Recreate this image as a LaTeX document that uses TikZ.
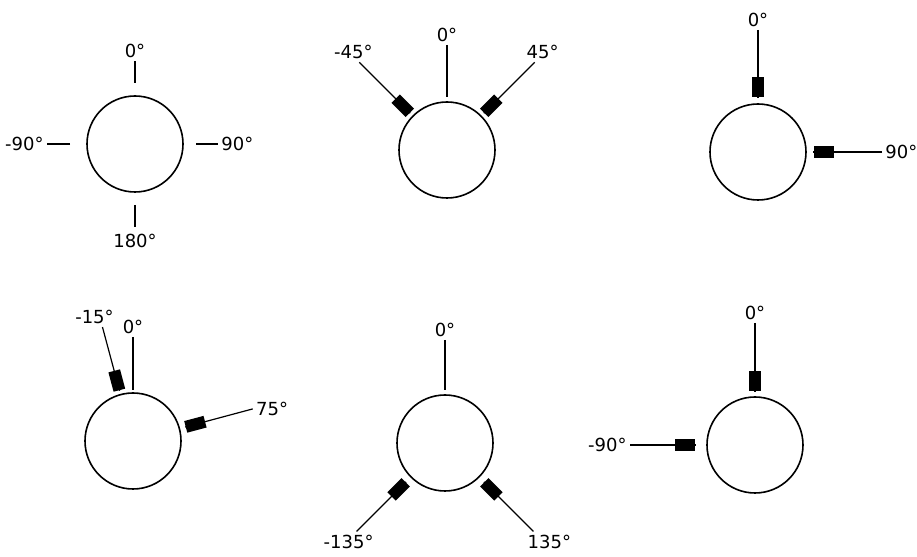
\documentclass[tikz,border=0pt]{standalone}
\usepackage{fontspec}
\setmainfont{DejaVu Sans}
\usetikzlibrary{positioning}

\tikzset{
  ring/.style={draw, circle, line width=0.8pt, minimum size=48pt, inner sep=0pt},
  spoke/.style={line width=0.6pt},
  plug/.style={fill=black, minimum width=10pt, minimum height=6pt, inner sep=0pt,
               sloped, allow upside down, anchor=east},
  deg/.style={font=\fontsize{9}{10}\selectfont, inner sep=1.5pt}
}

\begin{document}
\begin{tikzpicture}[x=0.5pt, y=0.5pt]

\useasboundingbox (0,0) rectangle (917,557);

% the six rings
\node[ring] (c1) at (135, 413) {};
\node[ring] (c2) at (447, 407) {};
\node[ring] (c3) at (758, 405) {};
\node[ring] (c4) at (133, 116) {};
\node[ring] (c5) at (445, 114) {};
\node[ring] (c6) at (755, 112) {};

% ring 1: four short spokes
\path (c1.center) ++(90:61) coordinate (c1ua) ++(90:22) coordinate (c1ub);
\path (c1.center) ++(0:61) coordinate (c1ra) ++(0:22) coordinate (c1rb);
\path (c1.center) ++(270:61) coordinate (c1da) ++(270:22) coordinate (c1db);
\path (c1.center) ++(180:65) coordinate (c1la) ++(180:23) coordinate (c1lb);
\draw[spoke] (c1ua) -- (c1ub);
\draw[spoke] (c1ra) -- (c1rb);
\draw[spoke] (c1da) -- (c1db);
\draw[spoke] (c1la) -- (c1lb);
\node[deg, above] (t1u) at (c1ub) {0°};
\node[deg, right] (t1r) at (c1rb) {90°};
\node[deg, below, yshift=-2pt] (t1d) at (c1db) {180°};
\node[deg, left] (t1l) at (c1lb) {-90°};

% ring 2
\path (c2.center) ++(90:53) coordinate (c2ua) ++(90:52) coordinate (c2ub);
\path (c2.center) ++(135:52) coordinate (c2la) ++(135:72) coordinate (c2lb);
\path (c2.center) ++(45:52) coordinate (c2ra) ++(45:72) coordinate (c2rb);
\draw[spoke] (c2ub) -- (c2ua);
\draw[spoke] (c2lb) -- node[plug, pos=1] {} (c2la);
\draw[spoke] (c2rb) -- node[plug, pos=1] {} (c2ra);
\node[deg, above] (t2u) at (c2ub) {0°};
\node[deg, above, xshift=-3pt] (t2l) at (c2lb) {-45°};
\node[deg, above, xshift=4pt] (t2r) at (c2rb) {45°};

% ring 3
\path (c3.center) ++(90:54) coordinate (c3ua) ++(90:68) coordinate (c3ub);
\path (c3.center) ++(0:55) coordinate (c3ra) ++(0:69) coordinate (c3rb);
\draw[spoke] (c3ub) -- node[plug, pos=1] {} (c3ua);
\draw[spoke] (c3rb) -- node[plug, pos=1] {} (c3ra);
\node[deg, above] (t3u) at (c3ub) {0°};
\node[deg, right] (t3r) at (c3rb) {90°};

% ring 4
\path (c4.center) ++(90:51) coordinate (c4ua) ++(90:53) coordinate (c4ub);
\path (c4.center) ++(105:52) coordinate (c4la) ++(105:66) coordinate (c4lb);
\path (c4.center) ++(15:54) coordinate (c4ra) ++(15:70) coordinate (c4rb);
\draw[spoke] (c4ub) -- (c4ua);
\draw[spoke] (c4lb) -- node[plug, pos=1] {} (c4la);
\draw[spoke] (c4rb) -- node[plug, pos=1] {} (c4ra);
\node[deg, above] (t4u) at (c4ub) {0°};
\node[deg, above, xshift=-4pt] (t4l) at (c4lb) {-15°};
\node[deg, right] (t4r) at (c4rb) {75°};

% ring 5
\path (c5.center) ++(90:53) coordinate (c5ua) ++(90:50) coordinate (c5ub);
\path (c5.center) ++(225:55) coordinate (c5la) ++(225:70) coordinate (c5lb);
\path (c5.center) ++(315:55) coordinate (c5ra) ++(315:70) coordinate (c5rb);
\draw[spoke] (c5ub) -- (c5ua);
\draw[spoke] (c5lb) -- node[plug, pos=1] {} (c5la);
\draw[spoke] (c5rb) -- node[plug, pos=1] {} (c5ra);
\node[deg, above] (t5u) at (c5ub) {0°};
\node[deg, below, xshift=-4pt] (t5l) at (c5lb) {-135°};
\node[deg, below, xshift=8pt] (t5r) at (c5rb) {135°};

% ring 6
\path (c6.center) ++(90:53) coordinate (c6ua) ++(90:69) coordinate (c6ub);
\path (c6.center) ++(180:59) coordinate (c6la) ++(180:66) coordinate (c6lb);
\draw[spoke] (c6ub) -- node[plug, pos=1] {} (c6ua);
\draw[spoke] (c6lb) -- node[plug, pos=1] {} (c6la);
\node[deg, above] (t6u) at (c6ub) {0°};
\node[deg, left] (t6l) at (c6lb) {-90°};

\end{tikzpicture}
\end{document}
